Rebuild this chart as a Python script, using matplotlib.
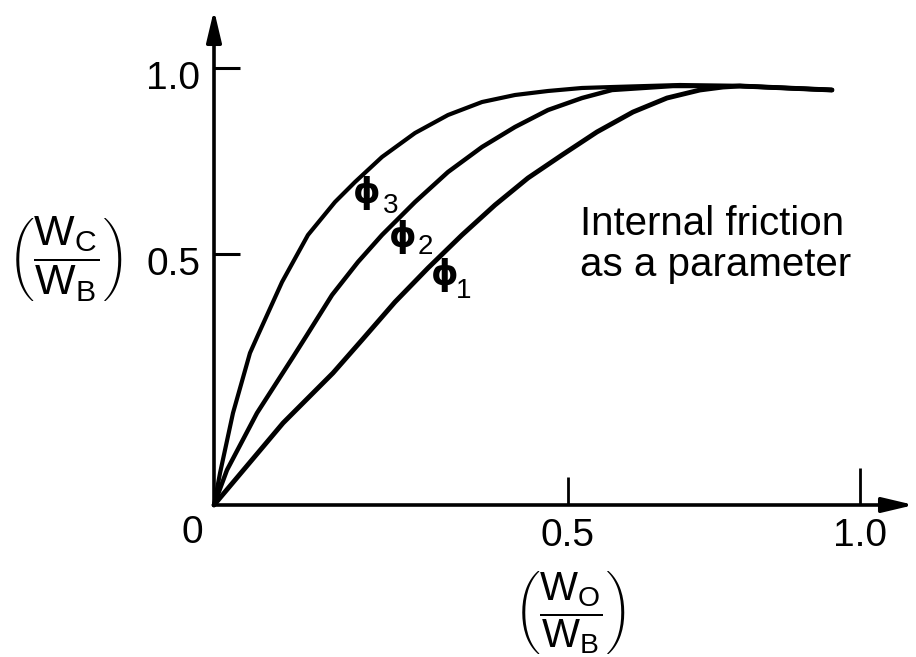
import numpy as np
import matplotlib
matplotlib.use("Agg")
import matplotlib.pyplot as plt
from matplotlib.transforms import ScaledTranslation

# Curvas (W0/WB, Wc/WB) para cada angulo de friccion
phi1_x = [0, 0.0761, 0.1424, 0.1831, 0.2309, 0.2801, 0.3319, 0.3833, 0.4356, 0.4904, 0.5475,
          0.6073, 0.6644, 0.7204, 0.7599, 0.7891, 0.9502]
phi1_y = [0, 0.1235, 0.2239, 0.2960, 0.3835, 0.4654, 0.5478, 0.6249, 0.6960, 0.7577, 0.8205,
          0.8757, 0.9149, 0.9375, 0.9459, 0.9488, 0.9375]

phi2_x = [0, 0.0111, 0.0441, 0.0889, 0.1072, 0.1411, 0.1774, 0.2119, 0.2606, 0.3104, 0.3630,
          0.4149, 0.4677, 0.5230, 0.5724, 0.6746, 0.7891, 0.9502]
phi2_y = [0, 0.0426, 0.1426, 0.2584, 0.3073, 0.4001, 0.4802, 0.5478, 0.6327, 0.7119, 0.7794,
          0.8342, 0.8813, 0.9149, 0.9375, 0.9488, 0.9488, 0.9375]

phi3_x = [0, 0.0046, 0.0172, 0.0359, 0.0453, 0.0748, 0.1085, 0.1452, 0.1732, 0.2119, 0.2606,
          0.3104, 0.3630, 0.4149, 0.4677, 0.5230, 0.5724, 0.6865, 0.7891, 0.9502]
phi3_y = [0, 0.0381, 0.1426, 0.2671, 0.3073, 0.4313, 0.5478, 0.6327, 0.6853, 0.7523, 0.8177,
          0.8674, 0.9037, 0.9234, 0.9347, 0.9432, 0.9459, 0.9516, 0.9488, 0.9375]

x_ticks = [0.5, 1.0]
y_ticks = [0.5, 1.0]
tick_labels = ["0.5", "1.0"]

plt.rcParams["mathtext.fontset"] = "custom"
plt.rcParams["mathtext.rm"] = "Liberation Sans"
plt.rcParams["mathtext.it"] = "Liberation Sans:italic"
plt.rcParams["mathtext.sf"] = "Liberation Sans"

W, H = 916, 657


def fx(px):
    return px / W


def fy(py):
    return 1 - py / H


# el dibujo original no es lineal: escala de potencia para que los ticks caigan donde estan
def pw(p):
    return (lambda v: np.sign(v) * np.abs(v) ** p,
            lambda v: np.sign(v) * np.abs(v) ** (1 / p))


fig = plt.figure(figsize=(W / 100, H / 100), dpi=100)
ox, oy = 214, 505
ax = fig.add_axes([fx(ox), fy(oy), fx(914) - fx(ox), fy(10) - fy(oy)])
ax.set_xscale("function", functions=pw(0.868))
ax.set_yscale("function", functions=pw(0.80))
ax.set_xlim(0, 1.097)
ax.set_ylim(0, 1.1686)

style = dict(color="black", clip_on=False, solid_capstyle="round", solid_joinstyle="round")
ax.plot(phi1_x, phi1_y, lw=3.5, **style)
ax.plot(phi2_x, phi2_y, lw=3.2, **style)
ax.plot(phi3_x, phi3_y, lw=3.0, **style)

for s in ax.spines.values():
    s.set_visible(False)

arrow = dict(arrowstyle="-|>,head_length=1.9,head_width=0.45", lw=2.6, color="black",
             shrinkA=0, shrinkB=0)
ax.annotate("", xy=(1, 0), xytext=(0, 0), xycoords="axes fraction", arrowprops=arrow)
ax.annotate("", xy=(0, 1), xytext=(0, 0), xycoords="axes fraction", arrowprops=arrow)

ax.set_xticks(x_ticks)
ax.set_xticklabels(tick_labels)
ax.set_yticks(y_ticks)
ax.set_yticklabels(tick_labels)
ax.minorticks_off()
ax.tick_params(axis="x", direction="in", length=20, width=2.0, pad=9, labelsize=28)
ax.tick_params(axis="y", direction="in", length=19, width=2.2, pad=10, labelsize=28)
ax.xaxis.get_major_ticks()[1].tick1line.set_markersize(27)
for lab in ax.get_xticklabels() + ax.get_yticklabels():
    lab.set_family("Liberation Sans")
for lab in ax.get_yticklabels():
    lab.set_transform(lab.get_transform() + ScaledTranslation(0, -5 / 72, fig.dpi_scale_trans))

fig.text(fx(192), fy(533), "0", fontsize=28, family="Liberation Sans", ha="center", va="center")

# etiquetas de los ejes
fig.text(fx(65), fy(259), r"$\left(\dfrac{\mathrm{W_C}}{\mathrm{W_B}}\right)$", fontsize=31,
         ha="center", va="center")
fig.text(fx(570), fy(612), r"$\left(\dfrac{\mathrm{W_O}}{\mathrm{W_B}}\right)$", fontsize=29,
         ha="center", va="center")

fig.text(fx(580), fy(205), "Internal friction\nas a parameter", fontsize=29,
         family="Liberation Sans", ha="left", va="top", linespacing=1.1)

# rotulos de las curvas
for px, py, sx, sy, sub in [(367, 193, 391, 206, "3"), (403, 237, 425, 247, "2"), (445, 275, 464, 291, "1")]:
    fig.text(fx(px), fy(py), "\u03d5", fontsize=25, family="DejaVu Sans", weight="bold",
             ha="center", va="center")
    fig.text(fx(sx), fy(sy), sub, fontsize=20, family="Liberation Sans", ha="center", va="center")

fig.savefig("out.png", dpi=100)
